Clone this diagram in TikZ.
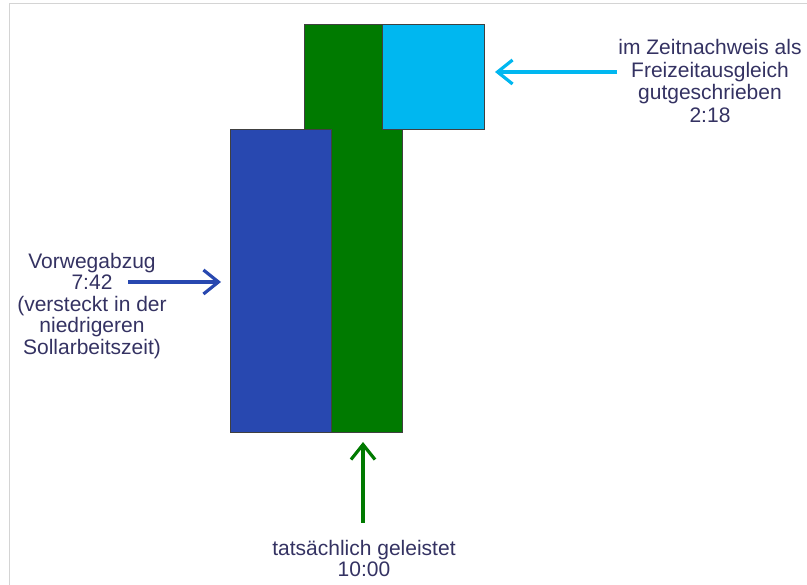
\documentclass[tikz,border=0pt]{standalone}
\usepackage{fontspec}
\setmainfont{Liberation Sans}
\usetikzlibrary{arrows.meta}
\definecolor{cgreen}{RGB}{0,122,0}
\definecolor{cblue}{RGB}{40,72,176}
\definecolor{ccyan}{RGB}{0,183,240}
\definecolor{ctext}{RGB}{52,50,98}
\definecolor{cframe}{RGB}{212,212,212}
\tikzset{
  bar/.style={draw=black!75, line width=0.8pt, inner sep=0pt, outer sep=0pt, anchor=north west},
  lbl/.style={align=center, text=ctext, inner sep=0pt, font=\fontsize{21}{21.5}\selectfont},
  pointer/.style={line width=3.5pt, -{Straight Barb[length=15pt,width=24pt,line width=3.2pt]}}
}
\begin{document}
\begin{tikzpicture}[x=1pt,y=-1pt]
\useasboundingbox (0,0) rectangle (807,585);
\draw[cframe, line width=1pt] (9,585) -- (9,4) -- (807,4);
% bars
\node[bar, fill=cgreen, minimum width=98pt, minimum height=408pt] (green) at (304,24) {};
\node[bar, fill=cblue, minimum width=101pt, minimum height=303pt] (blue) at (230,129) {};
\node[bar, fill=ccyan, minimum width=102pt, minimum height=105pt] (cyan) at (382,24) {};
% labels
\node[lbl] (lleft) at (92,306) {Vorwegabzug\\7:42\\(versteckt in der\\niedrigeren\\Sollarbeitszeit)};
\node[lbl, font=\fontsize{21}{22.7}\selectfont] (lright) at (710,81) {im Zeitnachweis als\\Freizeitausgleich\\gutgeschrieben\\2:18};
\node[lbl, font=\fontsize{21}{21}\selectfont] (lbottom) at (364,558) {tatsächlich geleistet\\10:00};
% arrow ends
\coordinate (bluetail) at (128,282);
\coordinate (bluetip) at (221,282);
\coordinate (cyantail) at (617,72);
\coordinate (cyantip) at (495,72);
\coordinate (greentail) at (363,523);
\coordinate (greentip) at (363,442);
\draw[pointer, cblue] (bluetail) -- (bluetip);
\draw[pointer, ccyan] (cyantail) -- (cyantip);
\draw[pointer, cgreen] (greentail) -- (greentip);
\end{tikzpicture}
\end{document}
